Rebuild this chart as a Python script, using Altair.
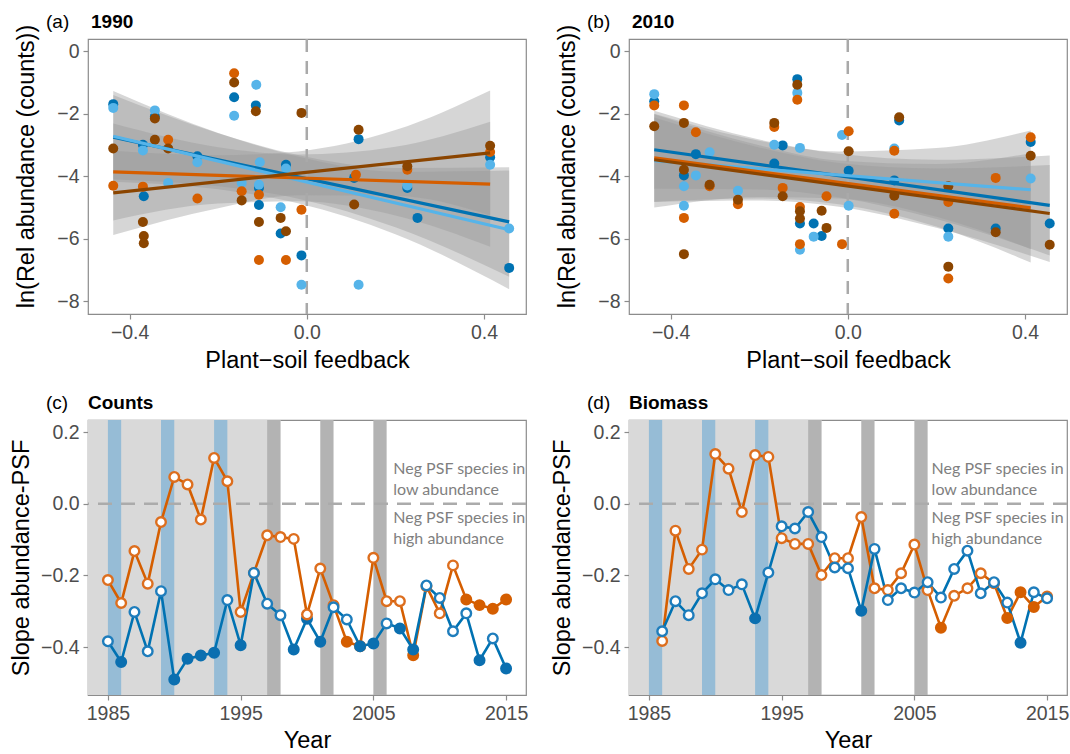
import altair as alt
import pandas as pd

# ------------------------------------------------------------------
# Panels (a) 1990 and (b) 2010 : ln(relative abundance) vs plant-soil feedback
# ------------------------------------------------------------------
SERIES = ["darkblue", "lightblue", "orange", "brown"]
SERIES_COLORS = ["#0072B2", "#56B4E9", "#D55E00", "#8B4500"]

# panel (a) points
a_darkblue_x = [-0.437, -0.370, -0.368, -0.343, -0.247, -0.164, -0.115, -0.108, -0.108, -0.059,
                -0.047, -0.012, 0.107, 0.117, 0.227, 0.250, 0.414, 0.457]
a_darkblue_y = [-1.69, -2.99, -4.64, -2.09, -3.36, -1.47, -1.73, -4.37, -4.92, -5.83,
                -3.63, -6.53, -4.05, -2.81, -4.37, -5.33, -3.39, -6.93]
a_lightblue_x = [-0.437, -0.370, -0.343, -0.313, -0.247, -0.164, -0.147, -0.114, -0.106, -0.108,
                 -0.059, -0.047, -0.012, 0.117, 0.227, 0.414, 0.457]
a_lightblue_y = [-1.81, -3.17, -1.89, -4.21, -3.55, -2.06, -4.21, -1.07, -3.55, -4.27,
                 -4.99, -3.75, -7.47, -7.47, -4.29, -3.63, -5.67]
a_orange_x = [-0.437, -0.370, -0.313, -0.247, -0.164, -0.147, -0.108, -0.108, -0.047, -0.012,
              0.111, 0.227, 0.414]
a_orange_y = [-4.30, -4.33, -2.83, -4.71, -0.70, -4.48, -4.59, -6.68, -6.68, -5.07,
              -3.95, -3.79, -3.22]
a_brown_x = [-0.437, -0.370, -0.368, -0.368, -0.343, -0.343, -0.313, -0.164, -0.147, -0.115,
             -0.108, -0.059, -0.047, -0.012, 0.107, 0.117, 0.227, 0.414]
a_brown_y = [-3.11, -5.46, -5.91, -6.14, -2.15, -2.83, -3.11, -1.00, -4.77, -1.92,
             -5.46, -5.33, -5.76, -1.97, -4.90, -2.51, -3.68, -3.02]

# panel (a) fitted lines (order of SERIES) and confidence half-widths
a_fit_x_start = [-0.437, -0.437, -0.437, -0.437]
a_fit_x_end = [0.457, 0.457, 0.414, 0.414]
a_fit_y_start = [-2.75, -2.72, -3.86, -4.53]
a_fit_y_end = [-5.46, -5.71, -4.25, -3.25]
a_band_halfwidth = [[1.35, 0.85, 0.70, 0.95, 1.75],
                    [1.45, 0.90, 0.75, 1.00, 1.90],
                    [1.55, 0.90, 0.75, 1.10, 2.00],
                    [1.35, 0.85, 0.70, 1.05, 2.00]]

# panel (b) points
b_darkblue_x = [-0.437, -0.370, -0.343, -0.166, -0.147, -0.114, -0.108, -0.077, -0.059, 0.002,
                0.105, 0.116, 0.227, 0.334, 0.413, 0.456]
b_darkblue_y = [-1.60, -3.97, -3.29, -3.59, -3.01, -0.89, -5.51, -5.51, -5.91, -3.82,
                -4.13, -2.21, -5.67, -5.67, -2.90, -5.51]
b_lightblue_x = [-0.437, -0.370, -0.370, -0.343, -0.312, -0.248, -0.166, -0.114, -0.108, -0.108,
                 -0.077, -0.013, 0.002, 0.105, 0.227, 0.413]
b_lightblue_y = [-1.37, -4.32, -4.94, -3.97, -3.23, -4.46, -2.99, -1.33, -3.09, -6.35,
                 -5.93, -2.68, -4.94, -3.11, -5.93, -4.07]
b_orange_x = [-0.437, -0.370, -0.370, -0.343, -0.312, -0.248, -0.166, -0.147, -0.114, -0.108,
              -0.108, -0.048, -0.013, 0.002, 0.105, 0.105, 0.227, 0.227, 0.334, 0.413]
b_orange_y = [-1.73, -1.73, -5.33, -2.59, -4.32, -4.89, -2.42, -4.37, -1.55, -4.98,
              -6.17, -4.64, -6.17, -2.56, -3.18, -5.20, -4.82, -7.27, -4.05, -2.75]
b_brown_x = [-0.437, -0.370, -0.370, -0.370, -0.312, -0.248, -0.166, -0.147, -0.114, -0.108,
             -0.108, -0.059, -0.048, 0.002, 0.105, 0.116, 0.227, 0.227, 0.334, 0.413, 0.456]
b_brown_y = [-2.40, -2.29, -3.79, -6.49, -4.27, -4.75, -2.29, -4.64, -1.07, -5.12,
             -5.35, -5.10, -5.65, -3.20, -4.62, -2.11, -4.32, -6.89, -5.79, -3.34, -6.19]

b_fit_x_start = [-0.437, -0.437, -0.437, -0.437]
b_fit_x_end = [0.456, 0.413, 0.413, 0.456]
b_fit_y_start = [-3.15, -3.50, -3.41, -3.47]
b_fit_y_end = [-4.93, -4.43, -5.01, -5.19]
b_band_halfwidth = [[1.25, 0.80, 0.70, 0.95, 1.60],
                    [1.50, 0.90, 0.75, 1.10, 1.90],
                    [1.40, 0.85, 0.70, 1.00, 1.75],
                    [1.35, 0.85, 0.70, 0.95, 1.55]]
band_inner_x = [-0.2, -0.02, 0.2]

psf_ticks = [-0.4, 0.0, 0.4]
abund_ticks = [0, -2, -4, -6, -8]

# ------------------------------------------------------------------
# Panels (c) Counts and (d) Biomass : yearly slope abundance-PSF
# ------------------------------------------------------------------
c_years = [1985, 1986, 1987, 1988, 1989, 1990, 1991, 1992, 1993, 1994, 1995, 1996, 1997, 1998,
           1999, 2000, 2001, 2002, 2003, 2004, 2005, 2006, 2007, 2008, 2009, 2010, 2011, 2012,
           2013, 2014, 2015]
c_orange = [-0.213, -0.277, -0.132, -0.223, -0.051, 0.075, 0.054, -0.044, 0.128, 0.063, -0.302,
            -0.193, -0.088, -0.093, -0.098, -0.309, -0.181, -0.283, -0.385, -0.398, -0.151,
            -0.272, -0.272, -0.423, -0.230, -0.306, -0.172, -0.267, -0.283, -0.293, -0.267]
c_orange_filled = [0, 0, 0, 0, 0, 0, 0, 0, 0, 0, 0, 0, 0, 0, 0, 0, 0, 0, 1, 1, 0, 0, 0, 1, 0, 0,
                   0, 1, 1, 1, 1]
c_blue = [-0.384, -0.442, -0.302, -0.412, -0.244, -0.491, -0.433, -0.424, -0.416, -0.269, -0.395,
          -0.193, -0.279, -0.311, -0.407, -0.321, -0.385, -0.289, -0.323, -0.398, -0.390,
          -0.334, -0.348, -0.407, -0.228, -0.263, -0.356, -0.306, -0.437, -0.376, -0.460]
c_blue_filled = [0, 1, 0, 0, 0, 1, 1, 1, 1, 0, 1, 0, 0, 0, 1, 1, 1, 0, 0, 1, 1, 0, 1, 1, 0, 0, 0,
                 0, 1, 0, 1]

d_years = [1986, 1987, 1988, 1989, 1990, 1991, 1992, 1993, 1994, 1995, 1996, 1997, 1998, 1999,
           2000, 2001, 2002, 2003, 2004, 2005, 2006, 2007, 2008, 2009, 2010, 2011, 2012, 2013,
           2014, 2015]
d_orange = [-0.383, -0.075, -0.182, -0.128, 0.139, 0.098, -0.023, 0.136, 0.131, -0.096, -0.112,
            -0.112, -0.199, -0.152, -0.152, -0.037, -0.236, -0.241, -0.194, -0.114, -0.241,
            -0.346, -0.257, -0.236, -0.194, -0.222, -0.319, -0.247, -0.288, -0.259]
d_orange_filled = [0, 0, 0, 0, 0, 0, 0, 0, 0, 0, 0, 0, 0, 0, 0, 0, 0, 0, 0, 0, 0, 1, 0, 0, 0, 0,
                   1, 1, 1, 0]
d_blue = [-0.356, -0.272, -0.311, -0.250, -0.211, -0.241, -0.225, -0.320, -0.192, -0.063, -0.069,
          -0.023, -0.093, -0.178, -0.180, -0.299, -0.126, -0.269, -0.236, -0.248, -0.219,
          -0.262, -0.182, -0.131, -0.250, -0.219, -0.276, -0.388, -0.247, -0.264]
d_blue_filled = [0, 0, 0, 0, 0, 0, 0, 1, 0, 0, 0, 0, 0, 0, 0, 1, 0, 0, 0, 0, 0, 0, 0, 0, 0, 0, 0,
                 1, 0, 0]

light_period = [1983.5, 1998]
blue_period_start = [1985, 1989, 1993]
blue_period_end = [1986, 1990, 1994]
grey_period_start = [1997, 2001, 2005]
grey_period_end = [1998, 2002, 2006]

year_ticks = [1985, 1995, 2005, 2015]
slope_ticks = [0.2, 0.0, -0.2, -0.4]

note_lines = ["Neg PSF species in", "low abundance", "Neg PSF species in", "high abundance"]
note_y = [0.083, 0.024, -0.053, -0.113]
note_x_c = 2006.5
note_x_d = 2006.3

TS_SERIES = ["orange", "blue"]
TS_LINE = ["#E4823A", "#348DC7"]
TS_STROKE = ["#DD6E1E", "#1E7DBC"]
TS_FILL = ["#D55E00", "#0B6FB0"]

# ------------------------------------------------------------------
W, H = 438, 275
GREY_TXT = "#4D4D4D"
FRAME = "#8C8C8C"
FONT = "Liberation Sans"


def panel_tags(tag, ttl, dx):
    t1 = alt.Chart(pd.DataFrame({"t": [tag]})).mark_text(
        align="left", baseline="alphabetic", fontSize=19, font=FONT,
        color="black").encode(x=alt.value(-42), y=alt.value(-11), text="t:N")
    t2 = alt.Chart(pd.DataFrame({"t": [ttl]})).mark_text(
        align="left", baseline="alphabetic", fontSize=19, font=FONT,
        fontWeight="bold", color="black").encode(x=alt.value(dx), y=alt.value(-11), text="t:N")
    return t1, t2


def scatter_panel(pts, fit_xs, fit_xe, fit_ys, fit_ye, halfw, tag, ttl):
    rows = []
    for s, (xs, ys) in zip(SERIES, pts):
        for x, y in zip(xs, ys):
            rows.append({"series": s, "x": x, "y": y})
    pdf = pd.DataFrame(rows)
    frows, brows = [], []
    for i, s in enumerate(SERIES):
        x0, x1, y0, y1 = fit_xs[i], fit_xe[i], fit_ys[i], fit_ye[i]
        frows += [{"series": s, "x": x0, "y": y0}, {"series": s, "x": x1, "y": y1}]
        bx = [x0] + band_inner_x + [x1]
        for x, h in zip(bx, halfw[i]):
            yc = y0 + (y1 - y0) * (x - x0) / (x1 - x0)
            brows.append({"series": s, "x": x, "lo": yc - h, "hi": yc + h})
    fdf = pd.DataFrame(frows)
    bdf = pd.DataFrame(brows)

    xsc = alt.Scale(domain=[-0.494, 0.495], nice=False, zero=False)
    ysc = alt.Scale(domain=[-8.406, 0.394], nice=False, zero=False)
    xax = alt.Axis(values=psf_ticks, title="Plant\u2212soil feedback",
                   labelExpr="replace(format(datum.value, '.1f'), '-', '\u2212')")
    yax = alt.Axis(values=abund_ticks, title="ln(Rel abundance (counts))",
                   titleX=-50, titleY=127, titleAngle=270, titleBaseline="bottom",
                   titleAlign="center",
                   labelExpr="replace(format(datum.value, 'd'), '-', '\u2212')")
    col = alt.Color("series:N", scale=alt.Scale(domain=SERIES, range=SERIES_COLORS), legend=None)

    band = alt.Chart(bdf).mark_area(color="#999999", opacity=0.4, interpolate="monotone").encode(
        x=alt.X("x:Q", scale=xsc, axis=xax),
        y=alt.Y("lo:Q", scale=ysc, axis=yax),
        y2="hi:Q",
        detail="series:N",
    )
    vline = alt.Chart(pd.DataFrame({"v": [0.0]})).mark_rule(
        color="#A9A9A9", strokeWidth=2.5, strokeDash=[13, 9]).encode(
        x=alt.X("v:Q", scale=xsc, axis=xax))
    pts_l = alt.Chart(pdf).mark_circle(size=100, opacity=1).encode(
        x=alt.X("x:Q", scale=xsc, axis=xax),
        y=alt.Y("y:Q", scale=ysc, axis=yax),
        color=col,
    )
    lines = alt.Chart(fdf).mark_line(strokeWidth=3.2).encode(
        x=alt.X("x:Q", scale=xsc, axis=xax),
        y=alt.Y("y:Q", scale=ysc, axis=yax),
        color=col,
        detail="series:N",
    )
    t1, t2 = panel_tags(tag, ttl, 3)
    return alt.layer(band, vline, pts_l, lines, t1, t2).properties(width=W, height=H)


def ts_panel(years, orange, ofill, blue, bfill, note_x, tag, ttl):
    rows = []
    for s, vals, fl, k in (("orange", orange, ofill, 0), ("blue", blue, bfill, 1)):
        for yr, v, f in zip(years, vals, fl):
            rows.append({"series": s, "year": yr, "v": v,
                         "stroke": TS_FILL[k] if f else TS_STROKE[k],
                         "fill": TS_FILL[k] if f else "white",
                         "rank": (0 if f else 2) + k})
    df = pd.DataFrame(rows)

    xsc = alt.Scale(domain=[1983.5, 2016.5], nice=False, zero=False)
    ysc = alt.Scale(domain=[-0.534, 0.234], nice=False, zero=False)
    xax = alt.Axis(values=year_ticks, title="Year", format="d", titlePadding=6)
    yax = alt.Axis(values=slope_ticks, title="Slope abundance-PSF",
                   labelExpr="replace(format(datum.value, '.1f'), '-', '\u2212')")

    light = alt.Chart(pd.DataFrame({"s": [light_period[0]], "e": [light_period[1]]})).mark_rect(
        color="#D9D9D9", clip=True).encode(
        x=alt.X("s:Q", scale=xsc, axis=xax), x2="e:Q", y=alt.value(0), y2=alt.value(H))
    bluebars = alt.Chart(pd.DataFrame({"s": blue_period_start, "e": blue_period_end})).mark_rect(
        color="#96BCD6").encode(
        x=alt.X("s:Q", scale=xsc, axis=xax), x2="e:Q", y=alt.value(0), y2=alt.value(H))
    greybars = alt.Chart(pd.DataFrame({"s": grey_period_start, "e": grey_period_end})).mark_rect(
        color="#B3B3B3").encode(
        x=alt.X("s:Q", scale=xsc, axis=xax), x2="e:Q", y=alt.value(0), y2=alt.value(H))
    hline = alt.Chart(pd.DataFrame({"h": [0.0]})).mark_rule(
        color="#ABABAB", strokeWidth=2.5, strokeDash=[14, 9]).encode(
        y=alt.Y("h:Q", scale=ysc, axis=yax))
    notes = alt.Chart(pd.DataFrame({"x": [note_x] * 4, "y": note_y, "t": note_lines})).mark_text(
        align="left", baseline="alphabetic", fontSize=16, font="Lato", color="#7F7F7F").encode(
        x=alt.X("x:Q", scale=xsc, axis=xax), y=alt.Y("y:Q", scale=ysc, axis=yax), text="t:N")
    lines = alt.Chart(df).mark_line(strokeWidth=2.6).encode(
        x=alt.X("year:Q", scale=xsc, axis=xax),
        y=alt.Y("v:Q", scale=ysc, axis=yax),
        color=alt.Color("series:N", scale=alt.Scale(domain=TS_SERIES, range=TS_LINE), legend=None),
    )
    pts = alt.Chart(df).mark_point(shape="circle", filled=True, size=92, strokeWidth=2.4,
                                   opacity=1).encode(
        x=alt.X("year:Q", scale=xsc, axis=xax),
        y=alt.Y("v:Q", scale=ysc, axis=yax),
        fill=alt.Fill("fill:N", scale=None),
        stroke=alt.Stroke("stroke:N", scale=None),
        order=alt.Order("rank:Q"),
    )
    t1, t2 = panel_tags(tag, ttl, 0)
    return alt.layer(light, bluebars, greybars, hline, notes, lines, pts, t1, t2).properties(
        width=W, height=H)


pa = scatter_panel([(a_darkblue_x, a_darkblue_y), (a_lightblue_x, a_lightblue_y),
                    (a_orange_x, a_orange_y), (a_brown_x, a_brown_y)],
                   a_fit_x_start, a_fit_x_end, a_fit_y_start, a_fit_y_end, a_band_halfwidth,
                   "(a)", "1990")
pb = scatter_panel([(b_darkblue_x, b_darkblue_y), (b_lightblue_x, b_lightblue_y),
                    (b_orange_x, b_orange_y), (b_brown_x, b_brown_y)],
                   b_fit_x_start, b_fit_x_end, b_fit_y_start, b_fit_y_end, b_band_halfwidth,
                   "(b)", "2010")
pc = ts_panel(c_years, c_orange, c_orange_filled, c_blue, c_blue_filled, note_x_c, "(c)", "Counts")
pd_ = ts_panel(d_years, d_orange, d_orange_filled, d_blue, d_blue_filled, note_x_d, "(d)", "Biomass")

chart = alt.concat(pa, pb, pc, pd_, columns=2, spacing={"row": 20, "column": 20}).properties(
    padding={"left": 8, "top": 12, "right": 0, "bottom": 0},
    background="white",
).configure_view(
    stroke=FRAME, strokeWidth=1.2
).configure_axis(
    labelFont=FONT, labelFontSize=19.5, labelColor=GREY_TXT, labelPadding=4,
    titleFont=FONT, titleFontSize=23.5, titleFontWeight="normal", titleColor="black",
    titlePadding=7, tickColor=FRAME, tickSize=5, tickWidth=1.2, domain=False, grid=False,
)

chart.save("out.html", embed_options={"renderer": "svg", "actions": False})
